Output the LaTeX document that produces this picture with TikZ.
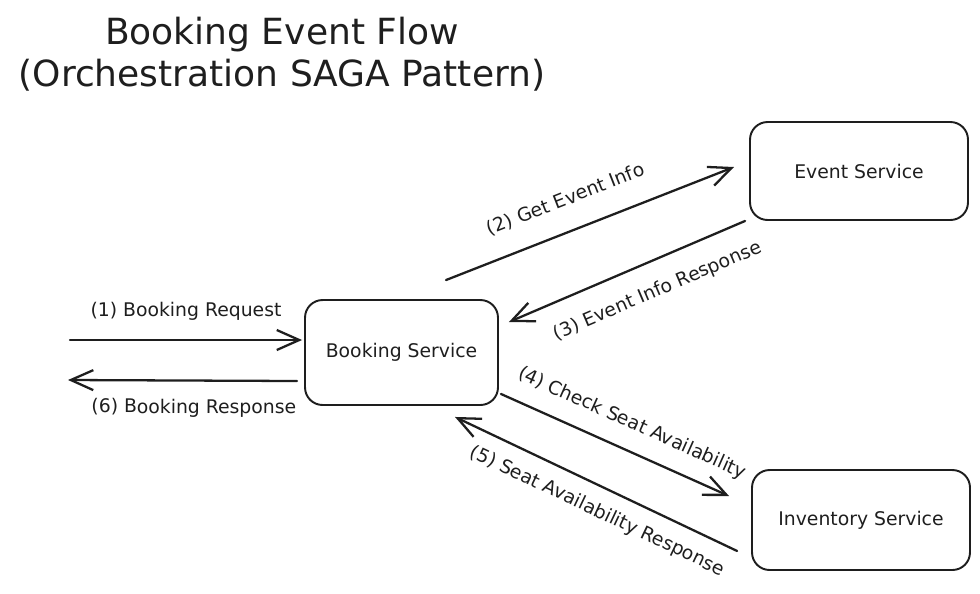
\documentclass[tikz,border=0pt]{standalone}
\usepackage{fontspec}
\setmainfont{DejaVu Sans}
\usetikzlibrary{arrows.meta}
\definecolor{ink}{HTML}{1E1E1E}

\begin{document}
\begin{tikzpicture}[x=0.02cm, y=-0.02cm,
  service/.style={draw=ink, line width=1.1pt, rounded corners=10pt, text=ink, font=\fontsize{10.7}{13}\selectfont},
  msg/.style={ink, line width=1.3pt, line cap=round, -{Straight Barb[length=4.5mm, width=4mm]}},
  reply/.style={ink, line width=1.3pt, line cap=round, {Straight Barb[length=4.5mm, width=4mm]}-},
  lbl/.style={text=ink, font=\fontsize{10.7}{13}\selectfont, sloped}]
  \useasboundingbox (0,0) rectangle (980,593);

  % Title.
  \node[align=center, text=ink, font=\fontsize{20.5}{24}\selectfont] (title) at (282,54)
    {Booking Event Flow\\(Orchestration SAGA Pattern)};

  % Services.
  \node[service, minimum width=3.86cm, minimum height=2.1cm] (booking) at (401.5,352.5) {Booking Service};
  \node[service, minimum width=4.36cm, minimum height=1.96cm] (event) at (859,171) {Event Service};
  \node[service, minimum width=4.36cm, minimum height=2cm] (inventory) at (861,520) {Inventory Service};

  % Client side ends.
  \coordinate (client in) at (70,340);
  \coordinate (client out) at (68,380);

  % (1) request and (6) response.
  \draw[msg] (client in) --node[lbl, above=7pt] {(1) Booking Request} ([shift={(-2,-12.5)}]booking.west);
  \draw[reply] (client out) --node[lbl, below=6.5pt, pos=.55] {(6) Booking Response} ([shift={(-7,28.5)}]booking.west);

  % Event service calls.
  \draw[msg] ([shift={(44.5,-19)}]booking.north) --node[lbl, above=9pt, pos=.455] {(2) Get Event Info} ([shift={(-15,-4)}]event.west);
  \draw[reply] ([shift={(10,-30.5)}]booking.east) --node[lbl, below=8pt, pos=.58] {(3) Event Info Response} ([shift={(-4,0)}]event.south west);

  % Inventory service calls.
  \draw[msg] ([shift={(2,-12)}]booking.south east) --node[lbl, above=6pt, pos=.527] {(4) Check Seat Availability} ([shift={(-22,27)}]inventory.north west);
  \draw[reply] ([shift={(53.5,11)}]booking.south) --node[lbl, below=4.7pt, pos=.541] {(5) Seat Availability Response} ([shift={(-14,-20)}]inventory.south west);

\end{tikzpicture}
\end{document}
